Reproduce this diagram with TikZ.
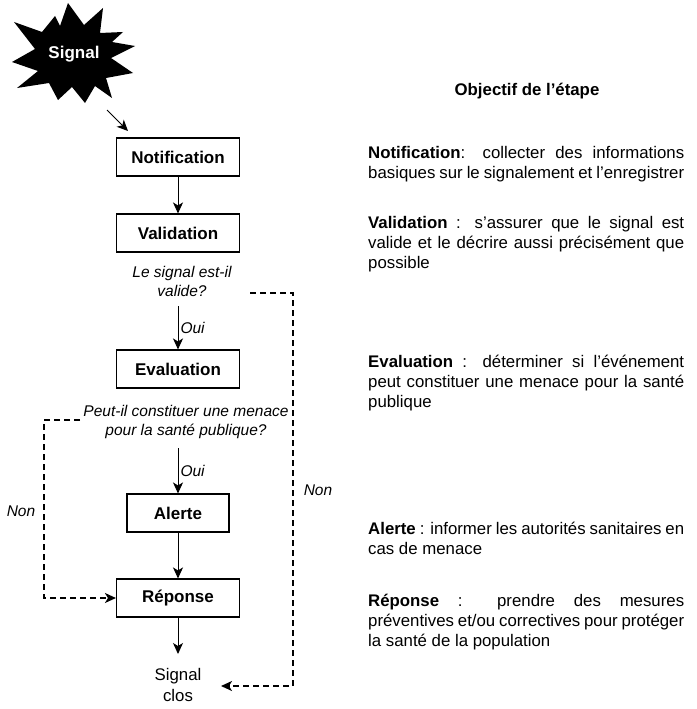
\documentclass[tikz,border=0pt]{standalone}
\usepackage{fontspec}
\setmainfont{Liberation Sans}
\usetikzlibrary{arrows.meta}
\newlength\colw
\setlength\colw{316pt}
% one fully justified line of the description column
\newcommand\jline[1]{\makebox[\colw][s]{#1}}
\newcommand\firststrut{\rule{0pt}{13pt}}
\begin{document}
\begin{tikzpicture}[x=1pt,y=-1pt,
  tip/.style={-{Stealth[length=11pt,width=10pt,inset=3pt]}},
  flow/.style={draw,line width=1pt,tip},
  back/.style={draw,line width=1.5pt,dash pattern=on 6pt off 4pt,tip},
  stepbox/.style={draw,line width=1.1pt,minimum width=123pt,minimum height=38pt,
    inner sep=0pt,font=\fontsize{17}{19}\selectfont\bfseries},
  question/.style={align=center,inner sep=1pt,font=\fontsize{15.5}{19}\selectfont\itshape},
  lbl/.style={inner sep=2pt,font=\fontsize{15.5}{18}\selectfont\itshape},
  plain/.style={align=center,inner sep=1pt,font=\fontsize{16.8}{21}\selectfont},
  desc/.style={align=left,inner sep=0pt,anchor=north west,font=\fontsize{16.8}{20}\selectfont}]
\useasboundingbox (0,0) rectangle (696,709);

% the "Signal" starburst
\fill (14,22) -- (42,32) -- (55,16) -- (60,26) -- (68,3) -- (84,25) -- (103,8)
  -- (100,33) -- (123,32) -- (112,42) -- (135,46) -- (111,58) -- (133,73)
  -- (106,78) -- (112,98) -- (95,86) -- (85,103) -- (72,87) -- (58,100)
  -- (49,83) -- (17,88) -- (38,71) -- (12,62) -- (35,49) -- cycle;
\node[text=white,font=\fontsize{17}{19}\selectfont\bfseries] (sig) at (74,54) {Signal};
\coordinate (s0) at (107,110);
\coordinate (s1) at (128,131);
\draw[flow] (s0) -- (s1);

% process steps
\node[stepbox] (notif) at (178,157) {Notification};
\node[stepbox] (valid) at (178,233) {Validation};
\node[question] (q1) at (182,281.5) {Le signal est-il\\valide?};
\node[stepbox] (eval) at (178,369) {Evaluation};
\node[question] (q2) at (186,421.5) {Peut-il constituer une menace\\pour la santé publique?};
\node[stepbox,minimum width=102pt] (alert) at (178,513) {Alerte};
\node[stepbox] (rep) at (178,598) {Réponse};
\node[plain] (clos) at (178,684.5) {Signal\\clos};

% main flow
\coordinate (q1b) at (178,306);
\coordinate (q2b) at (178,448);
\coordinate (endp) at (178,654);
\draw[flow] (notif) -- (valid);
\draw[flow] (q1b) -- (eval.north) node[lbl,midway,right] (oui1) {Oui};
\draw[flow] (q2b) -- (alert.north) node[lbl,midway,right] (oui2) {Oui};
\draw[flow] (alert) -- (rep);
\draw[flow] (rep) -- (endp);

% "Non" branches
\coordinate (r0) at (250,293);
\coordinate (r1) at (293,293);
\coordinate (r2) at (221,686);
\draw[back] (r0) -- (r1) |- (r2);
\node[lbl] (non2) at (318,490) {Non};

\coordinate (l0) at (80,420);
\coordinate (l1) at (44,420);
\draw[back] (l0) -- (l1) |- (rep.west);
\node[lbl] (non1) at (21,511) {Non};

% description column
\node[font=\fontsize{16.8}{20}\selectfont\bfseries] (head) at (527,91) {Objectif de l’étape};
\node[desc] (dnotif) at (368,145.5) {\firststrut
  \jline{\textbf{Notification}: collecter des informations}\\
  \jline{basiques sur le signalement et l’enregistrer}};
\node[desc] (dvalid) at (368,215.5) {\firststrut
  \jline{\textbf{Validation} : s’assurer que le signal est}\\
  \jline{valide et le décrire aussi précisément que}\\
  possible};
\node[desc] (deval) at (368,354.5) {\firststrut
  \jline{\textbf{Evaluation} : déterminer si l’événement}\\
  \jline{peut constituer une menace pour la santé}\\
  publique};
\node[desc] (dalert) at (368,521.5) {\firststrut
  \jline{\textbf{Alerte} : informer les autorités sanitaires en}\\
  cas de menace};
\node[desc] (drep) at (368,593.5) {\firststrut
  \jline{\textbf{Réponse} : prendre des mesures}\\
  \jline{préventives et/ou correctives pour protéger}\\
  la santé de la population};
\end{tikzpicture}
\end{document}
